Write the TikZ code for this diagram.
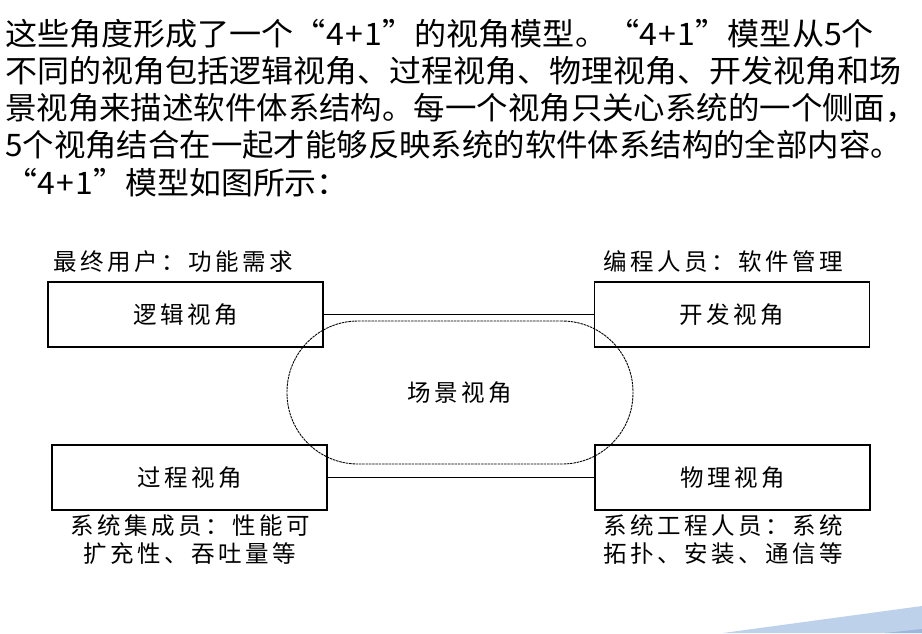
\documentclass[tikz,border=0pt]{standalone}
\usepackage{fontspec}
\newfontfamily\cjk{Noto Sans CJK SC}
\newfontfamily\cjkd[LetterSpace=15]{Noto Sans CJK SC}
\definecolor{deco}{HTML}{BDD1EA}
\definecolor{decodark}{HTML}{9CB7DB}
\newcommand{\fouro}{4\kern1.5pt+\kern1.5pt1}
\begin{document}
\begin{tikzpicture}[x=1pt,y=-1pt,
  para/.style={anchor=base west, inner sep=0pt, font=\cjk\fontsize{31}{37}\selectfont},
  viewbox/.style={draw, line width=1.5pt, inner sep=0pt, minimum width=275pt, minimum height=65pt, font=\cjkd\fontsize{23.5}{27}\selectfont},
  scenebox/.style={draw, line width=0.9pt, dash pattern=on 2.5pt off 0.8pt, rounded corners=71pt, inner sep=0pt, minimum width=346pt, minimum height=143pt, font=\cjkd\fontsize{23.5}{27}\selectfont},
  role/.style={inner sep=0pt, font=\cjkd\fontsize{23.5}{28}\selectfont},
  link/.style={line width=1.5pt}
]
\useasboundingbox (0,0) rectangle (922,633);
\fill[white] (0,0) rectangle (922,633);
% decoration
\fill[deco] (723,633) -- (922,606) -- (922,633) -- cycle;
\fill[decodark] (885,633) -- (922,629) -- (922,633) -- cycle;
% paragraph
\node[para] (l1) at (5,45) {\scalebox{1.035}[1]{这些角度形成了一个“\fouro”的视角模型。“\fouro”模型从5个}};
\node[para] (l2) at (5,82) {\scalebox{1.033}[1]{不同的视角包括逻辑视角、过程视角、物理视角、开发视角和场}};
\node[para] (l3) at (5,119) {\scalebox{1.014}[1]{景视角来描述软件体系结构。每一个视角只关心系统的一个侧面，}};
\node[para] (l4) at (5,156) {\scalebox{1.013}[1]{5个视角结合在一起才能够反映系统的软件体系结构的全部内容。}};
\node[para] (l5) at (5,194) {\scalebox{1.03}[1]{“\fouro”模型如图所示：}};
% diagram
\node[viewbox] (logic) at (185.5,314.5) {逻辑视角};
\node[viewbox] (dev) at (732,314.5) {开发视角};
\node[viewbox] (proc) at (189.5,477.5) {过程视角};
\node[viewbox] (phys) at (732.5,477.5) {物理视角};
\node[scenebox] (scene) at (460,392.5) {场景视角};
\draw[link] (logic.east) -- (dev.west);
\draw[link] (proc.east) -- (phys.west);
% roles
\node[role, anchor=west] (r1) at (53,262) {最终用户：功能需求};
\node[role, anchor=west] (r2) at (603,262) {编程人员：软件管理};
\node[role, align=center, anchor=north] (r3) at (190,514) {系统集成员：性能可\\扩充性、吞吐量等};
\node[role, align=left, anchor=north west] (r4) at (603,514) {系统工程人员：系统\\拓扑、安装、通信等};
\end{tikzpicture}
\end{document}
